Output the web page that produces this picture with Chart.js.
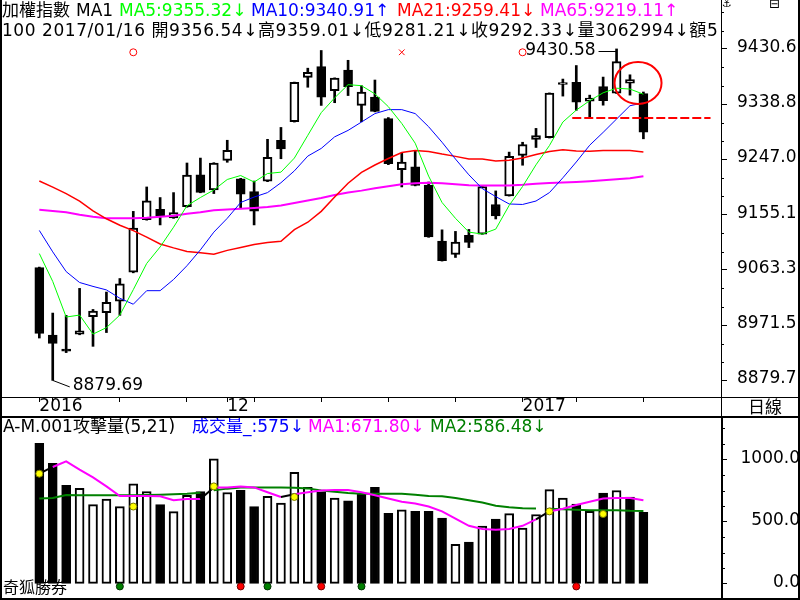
<!DOCTYPE html>
<html lang="zh-Hant"><head><meta charset="utf-8">
<title>加權指數</title>
<script src="https://cdn.jsdelivr.net/npm/chart.js@4.4.1/dist/chart.umd.min.js"></script>
<style>
html,body{margin:0;padding:0;background:#fff;}
#wrap{position:relative;width:800px;height:600px;overflow:hidden;background:#fff;}
canvas{position:absolute;left:0;}
.txt{position:absolute;white-space:nowrap;font-family:'DejaVu Sans','Noto Sans CJK TC',sans-serif;font-size:17px;line-height:20px;color:#000;}
#hdr{position:absolute;left:0;top:0;width:719px;height:42px;overflow:hidden;}
.ln{position:absolute;background:#000;}
</style></head>
<body><div id="wrap">
<canvas id="cTop" width="800" height="418" style="top:0"></canvas>
<canvas id="cBot" width="800" height="182" style="top:418px"></canvas>
<div id="hdr"></div>
<div id="hdr2"></div>
<div class="txt" style="left:3px;top:578px;font-size:16px;">奇狐勝券</div>
<div class="txt" style="left:748px;top:397px;">日線</div>
<div class="txt" style="left:769px;top:-6px;font-size:13px;">⊟</div>
<div class="txt" style="left:722px;top:-6px;font-size:11px;">⚓</div>
<div class="ln" style="left:0;top:0;width:2px;height:600px"></div>
<div class="ln" style="left:798px;top:0;width:2px;height:600px"></div>
<div class="ln" style="left:721px;top:0;width:1px;height:418px"></div>
<div class="ln" style="left:721px;top:416px;width:2px;height:184px"></div>
<div class="ln" style="left:0;top:397px;width:800px;height:1px"></div>
<div class="ln" style="left:0;top:416px;width:800px;height:2px"></div>
<div class="ln" style="left:0;top:598px;width:800px;height:2px"></div>
</div>
<script>
// ---------- data ----------
const dates = ['2016/11/11','2016/11/14','2016/11/15','2016/11/16','2016/11/17','2016/11/18','2016/11/21','2016/11/22','2016/11/23','2016/11/24','2016/11/25','2016/11/28','2016/11/29','2016/11/30','2016/12/01','2016/12/02','2016/12/05','2016/12/06','2016/12/07','2016/12/08','2016/12/09','2016/12/12','2016/12/13','2016/12/14','2016/12/15','2016/12/16','2016/12/19','2016/12/20','2016/12/21','2016/12/22','2016/12/23','2016/12/26','2016/12/27','2016/12/28','2016/12/29','2016/12/30','2017/01/03','2017/01/04','2017/01/05','2017/01/06','2017/01/09','2017/01/10','2017/01/11','2017/01/12','2017/01/13','2017/01/16'];
const open  = [9067.1,8955.0,8930.9,8956.6,8985.5,8992.1,9011.3,9059.4,9147.0,9163.9,9149.6,9168.3,9221.5,9196.2,9245.5,9214.8,9193.4,9211.0,9278.8,9309.5,9383.3,9401.4,9361.3,9395.3,9336.7,9350.5,9314.9,9230.0,9234.5,9204.5,9111.4,9088.9,9120.7,9122.9,9172.1,9186.4,9253.7,9280.4,9283.2,9371.5,9375.1,9343.9,9368.2,9357.1,9373.5,9356.54];
const high  = [9068.0,8991.6,8987.8,9032.6,8997.6,9026.5,9049.0,9160.6,9201.2,9183.6,9191.8,9241.0,9249.2,9241.5,9278.8,9215.5,9211.0,9280.4,9300.1,9375.5,9398.6,9428.0,9382.5,9411.7,9369.5,9378.9,9316.5,9257.5,9261.9,9209.4,9129.9,9127.3,9130.6,9202.0,9194.6,9259.1,9275.5,9298.5,9357.5,9380.5,9403.0,9353.8,9383.8,9430.58,9387.6,9359.01];
const low   = [8950.1,8879.69,8925.9,8955.5,8936.3,8959.2,8987.8,9058.5,9146.0,9138.1,9149.0,9167.5,9191.5,9190.2,9242.2,9166.0,9138.1,9210.0,9248.1,9309.0,9366.9,9336.7,9341.2,9353.1,9309.5,9326.0,9238.3,9201.2,9203.0,9117.5,9078.0,9084.0,9100.4,9122.5,9148.0,9186.0,9237.3,9266.8,9282.5,9352.2,9328.5,9317.7,9337.1,9356.5,9353.8,9281.21];
const close = [8957.6,8941.2,8928.4,8962.0,8994.9,9009.6,9040.3,9132.7,9178.2,9152.9,9158.5,9220.9,9192.3,9241.0,9261.9,9189.0,9161.1,9250.4,9264.5,9375.1,9391.5,9350.5,9382.2,9367.9,9358.7,9326.9,9239.9,9242.7,9203.8,9118.0,9078.6,9109.7,9108.9,9201.7,9152.9,9252.0,9271.7,9286.5,9357.1,9373.2,9342.3,9348.9,9344.8,9409.6,9379.7,9292.33];
const ma5   = [9090.5,9044.1,8985.0,8988.3,8956.6,8967.4,8988.3,9030.5,9074.1,9101.5,9134.3,9170.0,9183.6,9196.2,9213.6,9220.2,9209.4,9223.5,9225.8,9249.2,9287.0,9324.7,9349.3,9371.2,9369.5,9355.9,9334.6,9306.7,9273.9,9219.2,9175.4,9149.1,9126.1,9122.9,9131.1,9170.5,9202.0,9238.0,9270.0,9309.1,9328.9,9344.6,9357.7,9365.3,9363.9,9355.32];
const ma10  = [9128.9,9093.3,9060.5,9042.4,9035.9,9030.1,9016.2,9006.3,9028.8,9028.8,9047.4,9070.3,9096.6,9126.1,9149.1,9175.4,9184.4,9191.8,9208.2,9227.9,9252.5,9265.2,9284.5,9295.2,9309.1,9323.1,9329.7,9329.7,9323.1,9301.3,9275.5,9247.6,9221.3,9198.4,9185.2,9172.9,9172.1,9177.8,9191.8,9216.4,9242.7,9270.6,9291.9,9314.1,9336.2,9340.91];
const ma21  = [9211.0,9200.8,9190.2,9177.8,9161.4,9148.3,9137.6,9128.6,9117.9,9106.4,9099.9,9094.1,9091.7,9089.5,9095.8,9100.7,9105.6,9108.9,9110.9,9130.2,9142.6,9160.6,9184.4,9207.4,9225.4,9237.7,9248.4,9258.3,9261.9,9260.2,9255.8,9252.0,9247.6,9247.6,9244.3,9245.5,9249.2,9255.0,9260.2,9262.9,9261.1,9260.7,9261.9,9261.9,9261.9,9259.41];
const ma65  = [9163.4,9161.4,9159.0,9154.9,9151.6,9149.1,9149.1,9149.1,9149.9,9151.6,9153.2,9156.5,9159.0,9162.3,9163.9,9165.0,9166.4,9168.0,9170.5,9174.6,9178.7,9182.8,9187.7,9191.8,9195.1,9199.2,9202.5,9205.7,9207.4,9208.2,9207.4,9205.7,9204.1,9203.8,9203.8,9203.8,9204.9,9206.6,9207.7,9208.5,9209.4,9210.7,9212.3,9213.9,9215.6,9219.11];
const volume = [1131,969,792,768,637,683,622,805,743,637,581,712,743,1005,735,753,622,704,650,897,776,737,691,668,720,776,568,596,583,583,529,318,336,465,521,565,449,558,758,691,642,583,730,751,699,575];
const volMa1 = [886,940,985,918,856,784,707,707,707,704,673,683,683,776,776,784,776,737,699,720,737,751,755,755,737,712,686,660,647,622,583,524,467,442,436,442,467,519,583,604,635,660,686,691,691,671.8];
const volMa2 = [686,691,714,712,712,712,712,712,714,717,720,724,733,752,766,776,776,776,776,774,768,751,740,730,724,724,724,724,717,707,704,691,673,655,629,616,608,606,604,601,596,593,593,593,588,586.48];
const priceTicks = [8879.7,8971.5,9063.3,9155.1,9247.0,9338.8,9430.6];
const volTicks = [0,500,1000];
const dateTickIdx = [0,1,6,11,14,16,21,26,31,36,40,45];
const dateTickLabels = {0:'2016',14:'12',36:'2017'};
const topCircleIdx = [7,36];
const topCrossIdx = [27];
const yellowIdx = [0,7,13,19,38,42];
const yellowVal = [886,622,784,699,583,562];
const redSigIdx = [15,21,40];
const greenSigIdx = [6,17,24];
const ma1BlackSeg = [0,12,18,37];
const ma2GapSeg = [12,37];
const supportLevel = 9316, supportFrom = 39.7, supportTo = 50.0;
const focusIdx = 44.6, focusVal = 9374;
const markerLevel = 9425, sigLevel = -20;

// ---------- header text ----------
const arrow = a => a[a.length-1] >= a[a.length-2] ? '↑' : '↓';
const last = a => a[a.length-1];
const n = close.length-1;
const hdrItems = [
  ['加權指數',2,0,'#000'],['MA1',76,0,'#000'],
  [`MA5:${last(ma5).toFixed(2)}${arrow(ma5)}`,119,0,'#00ff00'],
  [`MA10:${last(ma10).toFixed(2)}${arrow(ma10)}`,251,0,'#0000ff'],
  [`MA21:${last(ma21).toFixed(2)}${arrow(ma21)}`,397,0,'#ff0000'],
  [`MA65:${last(ma65).toFixed(2)}${arrow(ma65)}`,540,0,'#ff00ff']
];
const hdr = document.getElementById('hdr');
const addTxt = (parent,t,x,y,c,extra)=>{const d=document.createElement('div');d.className='txt';d.style.left=x+'px';d.style.top=y+'px';d.style.color=c;d.textContent=t;if(extra)Object.assign(d.style,extra);parent.appendChild(d);};
hdrItems.forEach(([t,x,y,c])=>addTxt(hdr,t,x,y,c));
const line2 = `100 ${dates[n]} 開${open[n].toFixed(2)}${arrow(open)}高${high[n].toFixed(2)}${arrow(high)}低${low[n].toFixed(2)}${arrow(low)}收${close[n].toFixed(2)}${arrow(close)}量3062994↓額5`;
addTxt(hdr,line2,2,20,'#000',{letterSpacing:'0.55px'});
const hdr2Items = [
  ['A-M.001攻擊量(5,21)',3,'#000'],
  [`成交量_:${last(volume)}${arrow(volume)}`,192,'#0000ff'],
  [`MA1:${last(volMa1).toFixed(2)}${arrow(volMa1)}`,308,'#ff00ff'],
  [`MA2:${last(volMa2).toFixed(2)}${arrow(volMa2)}`,430,'#008000']
];
const hdr2 = document.getElementById('hdr2');
hdr2Items.forEach(([t,x,c])=>addTxt(hdr2,t,x,416,c));

// ---------- charts ----------
Chart.defaults.font.family = "'DejaVu Sans','Noto Sans CJK TC',sans-serif";
Chart.defaults.font.size = 17;
Chart.defaults.color = '#000';
const FONT = "17px 'DejaVu Sans', sans-serif";
const xMin = -2.556, xMax = 50.78;
const pts = a => a.map((v,i)=>({x:i,y:v}));
const bodyColors = close.map((c,i)=> c < open[i] ? '#000' : '#fff');
const volColors = close.map((c,i)=> (i===0 ? c < open[i] : c < close[i-1]) ? '#000' : '#fff');

const topDecor = {
  id:'topDecor',
  afterDatasetsDraw(chart){
    const {ctx, scales:{x,y}} = chart;
    ctx.save();
    ctx.strokeStyle = '#ff0000'; ctx.lineWidth = 2; ctx.setLineDash([9,3]);
    const sy = Math.round(y.getPixelForValue(supportLevel));
    ctx.beginPath(); ctx.moveTo(x.getPixelForValue(supportFrom), sy); ctx.lineTo(x.getPixelForValue(supportTo), sy); ctx.stroke();
    ctx.setLineDash([]);
    ctx.beginPath(); ctx.ellipse(x.getPixelForValue(focusIdx), y.getPixelForValue(focusVal), 23.5, 21, 0, 0, Math.PI*2); ctx.stroke();
    ctx.strokeStyle = '#000'; ctx.fillStyle = '#000'; ctx.lineWidth = 1; ctx.font = FONT; ctx.textBaseline = 'middle';
    const hi = Math.max(...high), hiI = high.indexOf(hi);
    const hx = x.getPixelForValue(hiI), hy = y.getPixelForValue(hi);
    ctx.beginPath(); ctx.moveTo(hx-18, Math.round(hy+2)+0.5); ctx.lineTo(hx, Math.round(hy+2)+0.5); ctx.stroke();
    ctx.textAlign = 'right'; ctx.fillText(hi.toFixed(2), hx-21, hy+1.5);
    const lo = Math.min(...low), loI = low.indexOf(lo);
    const lx = x.getPixelForValue(loI), ly = y.getPixelForValue(lo);
    ctx.beginPath(); ctx.moveTo(lx, ly); ctx.lineTo(lx+17, ly+6.5); ctx.stroke();
    ctx.textAlign = 'left'; ctx.fillText(lo.toFixed(2), lx+20, ly+5);
    ctx.restore();
  },
  afterDraw(chart){
    const {ctx, chartArea:a, scales:{y}} = chart;
    const step = (priceTicks[1]-priceTicks[0])/3;
    ctx.save(); ctx.fillStyle = '#000';
    for(let k=-3;k<=(priceTicks.length+1)*3;k++){
      if(k%3===0) continue;
      const py = Math.round(y.getPixelForValue(priceTicks[0]+k*step));
      if(py < a.top+2 || py > a.bottom-2) continue;
      ctx.fillRect(a.right+1, py, 2, 1);
    }
    ctx.restore();
  }
};

new Chart(document.getElementById('cTop'), {
  type:'bar',
  data:{datasets:[
    {type:'line', label:'MA5', data:pts(ma5), borderColor:'#00ff00', borderWidth:1, pointRadius:0, order:0},
    {type:'line', label:'MA10', data:pts(ma10), borderColor:'#0000ff', borderWidth:1, pointRadius:0, order:0},
    {type:'line', label:'MA21', data:pts(ma21), borderColor:'#ff0000', borderWidth:1.5, pointRadius:0, order:0},
    {type:'line', label:'MA65', data:pts(ma65), borderColor:'#ff00ff', borderWidth:2, pointRadius:0, order:0},
    {type:'scatter', data:topCircleIdx.map(i=>({x:i,y:markerLevel})), pointStyle:'circle', pointRadius:3.5, borderColor:'#ff0000', backgroundColor:'rgba(0,0,0,0)', borderWidth:1, order:0},
    {type:'scatter', data:topCrossIdx.map(i=>({x:i,y:markerLevel})), pointStyle:'crossRot', pointRadius:4, borderColor:'#ff0000', borderWidth:1, order:0},
    {type:'bar', label:'body', data:open.map((o,i)=>({x:i,y:[o,close[i]]})), backgroundColor:bodyColors, borderColor:'#000', borderWidth:2, borderSkipped:false, barThickness:9, grouped:false, minBarLength:2, order:1},
    {type:'bar', label:'wick', data:low.map((l,i)=>({x:i,y:[l,high[i]]})), backgroundColor:'#000', borderWidth:0, barThickness:2, grouped:false, order:2}
  ]},
  options:{
    responsive:false, animation:false, events:[], devicePixelRatio:1,
    layout:{padding:{left:1,right:0,top:0,bottom:0}},
    plugins:{legend:{display:false}, tooltip:{enabled:false}},
    scales:{
      x:{type:'linear', min:xMin, max:xMax, offset:false, position:'bottom',
         grid:{display:true, drawOnChartArea:false, drawTicks:true, tickLength:5, tickColor:'#000', offset:false},
         border:{display:true, color:'#000', width:1},
         ticks:{autoSkip:false, maxRotation:0, minRotation:0, align:'start', labelOffset:0, padding:-6, color:'#000',
                callback:v=> dateTickLabels[v] !== undefined ? dateTickLabels[v] : ''},
         afterBuildTicks:s=>{ s.ticks = dateTickIdx.map(v=>({value:v})); },
         afterFit:s=>{ s.height = 21; s.paddingLeft = 0; s.paddingRight = 0; }},
      y:{type:'linear', position:'right', min:8852.1, max:9503.6,
         grid:{display:true, drawOnChartArea:false, drawTicks:true, tickLength:6, tickColor:'#000'},
         border:{display:true, color:'#000', width:1},
         ticks:{padding:10, labelOffset:-1.5, color:'#000', callback:v=>Number(v).toFixed(1)},
         afterBuildTicks:s=>{ s.ticks = priceTicks.map(v=>({value:v})); },
         afterFit:s=>{ s.width = 79; s.paddingTop = 0; s.paddingBottom = 0; }}
    }
  },
  plugins:[topDecor]
});

const botDecor = {
  id:'botDecor',
  afterDraw(chart){
    const {ctx, chartArea:a, scales:{y}} = chart;
    ctx.save(); ctx.fillStyle = '#000';
    for(let v=-125; v<=1500; v+=125){
      if(v%500===0) continue;
      const py = Math.round(y.getPixelForValue(v));
      if(py < a.top+2 || py > a.bottom-2) continue;
      ctx.fillRect(a.right+2, py, 2, 1);
    }
    ctx.restore();
  }
};

new Chart(document.getElementById('cBot'), {
  type:'bar',
  data:{datasets:[
    {type:'scatter', data:yellowIdx.map((i,k)=>({x:i,y:yellowVal[k]})), pointStyle:'circle', pointRadius:3.5, backgroundColor:'#ffff00', borderColor:'#7a7a00', borderWidth:1, order:0},
    {type:'scatter', data:redSigIdx.map(i=>({x:i,y:sigLevel})), pointStyle:'circle', pointRadius:3.5, backgroundColor:'#ff0000', borderColor:'#700000', borderWidth:1, order:0},
    {type:'scatter', data:greenSigIdx.map(i=>({x:i,y:sigLevel})), pointStyle:'circle', pointRadius:3.5, backgroundColor:'#008000', borderColor:'#003000', borderWidth:1, order:0},
    {type:'line', data:pts(volMa1), borderColor:'#ff00ff', borderWidth:2, pointRadius:0, order:1,
      segment:{borderColor:c=> ma1BlackSeg.includes(c.p0DataIndex) ? '#000' : undefined}},
    {type:'line', data:pts(volMa2), borderColor:'#008000', borderWidth:2, pointRadius:0, order:2,
      segment:{borderColor:c=> ma2GapSeg.includes(c.p0DataIndex) ? 'rgba(0,0,0,0)' : undefined}},
    {type:'bar', data:pts(volume), backgroundColor:volColors, borderColor:'#000', borderWidth:2, borderSkipped:false, barThickness:9, grouped:false, order:3}
  ]},
  options:{
    responsive:false, animation:false, events:[], devicePixelRatio:1,
    layout:{padding:{left:1,right:0,top:0,bottom:3}},
    plugins:{legend:{display:false}, tooltip:{enabled:false}},
    scales:{
      x:{type:'linear', min:xMin, max:xMax, offset:false, display:false},
      y:{type:'linear', position:'right', min:-88.8, max:1293.4,
         grid:{display:true, drawOnChartArea:false, drawTicks:true, tickLength:6, tickColor:'#000'},
         border:{display:true, color:'#000', width:1},
         ticks:{padding:10, labelOffset:-1, crossAlign:'far', color:'#000', callback:v=>Number(v).toFixed(1)},
         afterBuildTicks:s=>{ s.ticks = volTicks.map(v=>({value:v})); },
         afterFit:s=>{ s.width = 79; s.paddingTop = 0; s.paddingBottom = 0; }}
    }
  },
  plugins:[botDecor]
});
</script></body></html>
